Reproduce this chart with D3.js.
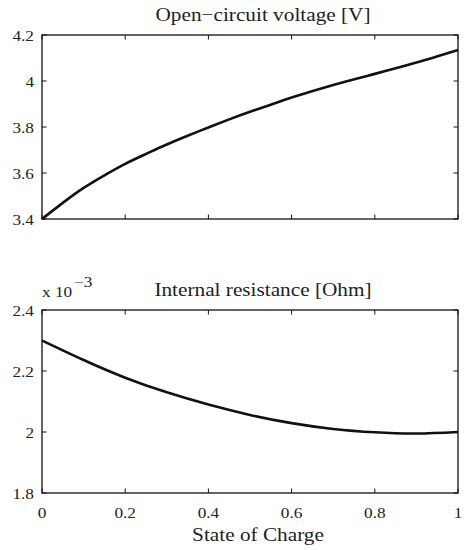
<!DOCTYPE html>
<html>
<head>
<meta charset="utf-8">
<script src="https://cdn.jsdelivr.net/npm/d3@7"></script>
<style>
  html, body { margin: 0; padding: 0; background: #fff; }
  svg { display: block; }
  text { font-family: "Liberation Serif", "DejaVu Serif", serif; fill: #222; }
</style>
</head>
<body>
<svg id="chart" width="465" height="550"></svg>
<script>
// ---- data ----
const socOcv = [0, 0.05, 0.1, 0.15, 0.2, 0.25, 0.3, 0.35, 0.4, 0.45, 0.5, 0.55, 0.6, 0.7, 0.8, 0.9, 1.0];
const ocv    = [3.400, 3.470, 3.535, 3.590, 3.640, 3.683, 3.724, 3.762, 3.798, 3.833, 3.866, 3.897, 3.928, 3.983, 4.031, 4.080, 4.135];
const socR   = [0, 0.1, 0.2, 0.3, 0.4, 0.5, 0.6, 0.7, 0.8, 0.9, 1.0];
const rint   = [2.300, 2.236, 2.178, 2.130, 2.090, 2.056, 2.029, 2.010, 1.999, 1.995, 2.000]; // x 10^-3 Ohm
const xTicks = [0, 0.2, 0.4, 0.6, 0.8, 1];
const xTickLabels = ["0", "0.2", "0.4", "0.6", "0.8", "1"];
const ocvTicks = [3.4, 3.6, 3.8, 4.0, 4.2];
const ocvTickLabels = ["3.4", "3.6", "3.8", "4", "4.2"];
const rTicks = [1.8, 2.0, 2.2, 2.4];
const rTickLabels = ["1.8", "2", "2.2", "2.4"];
const titles = ["Open\u2212circuit voltage [V]", "Internal resistance [Ohm]"];
const xLabel = "State of Charge";

// ---- layout ----
const svg = d3.select("#chart");
const SX = 1.15; // horizontal stretch of text in the reference
const left = 42, right = 458;
const panels = [
  { top: 35, bottom: 219, xs: socOcv, y: ocv, domain: [3.4, 4.2], ticks: ocvTicks, labels: ocvTickLabels, title: titles[0], showX: false },
  { top: 310, bottom: 493, xs: socR, y: rint, domain: [1.8, 2.4], ticks: rTicks, labels: rTickLabels, title: titles[1], showX: true }
];

function txt(g, x, y, s, size, anchor) {
  return g.append("text")
    .attr("transform", `translate(${x},${y}) scale(${SX},1)`)
    .attr("text-anchor", anchor)
    .attr("font-size", size)
    .text(s);
}

const x = d3.scaleLinear().domain([0, 1]).range([left, right]);
const tickLen = 4.5;

panels.forEach(p => {
  const y = d3.scaleLinear().domain(p.domain).range([p.bottom, p.top]);
  const g = svg.append("g");

  // curve
  const line = d3.line().x((d, i) => x(p.xs[i])).y(d => y(d)).curve(d3.curveNatural);
  g.append("path").datum(p.y).attr("d", line)
    .attr("fill", "none").attr("stroke", "#111").attr("stroke-width", 2.6)
    .attr("stroke-linejoin", "round");

  // ticks inward on all four sides
  xTicks.forEach(t => {
    g.append("line").attr("x1", x(t)).attr("x2", x(t)).attr("y1", p.bottom).attr("y2", p.bottom - tickLen)
      .attr("stroke", "#111").attr("stroke-width", 1);
    g.append("line").attr("x1", x(t)).attr("x2", x(t)).attr("y1", p.top).attr("y2", p.top + tickLen)
      .attr("stroke", "#111").attr("stroke-width", 1);
  });
  p.ticks.forEach((t, i) => {
    g.append("line").attr("x1", left).attr("x2", left + tickLen).attr("y1", y(t)).attr("y2", y(t))
      .attr("stroke", "#111").attr("stroke-width", 1);
    g.append("line").attr("x1", right).attr("x2", right - tickLen).attr("y1", y(t)).attr("y2", y(t))
      .attr("stroke", "#111").attr("stroke-width", 1);
    txt(g, left - 8, y(t) + 6, p.labels[i], 15, "end");
  });

  // frame
  g.append("rect").attr("x", left).attr("y", p.top).attr("width", right - left).attr("height", p.bottom - p.top)
    .attr("fill", "none").attr("stroke", "#111").attr("stroke-width", 1.3);

  // title
  txt(g, 263, p.top - 14, p.title, 18.5, "middle");

  if (p.showX) {
    xTicks.forEach((t, i) => txt(g, x(t), p.bottom + 25, xTickLabels[i], 15, "middle"));
  }
});

// exponent label
const gEx = svg.append("g");
txt(gEx, left, 297, "x 10", 15, "start");
txt(gEx, 74, 287, "\u22123", 15, "start");

// x label
txt(svg, 258, 541, xLabel, 18.5, "middle");
</script>
</body>
</html>
